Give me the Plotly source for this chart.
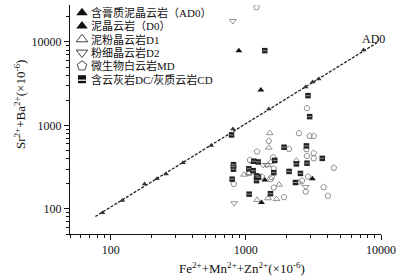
import plotly.graph_objects as go
import math

# AD0 含膏质泥晶云岩
ad0_x = [87, 122, 178, 220, 257, 343, 555, 802, 1479, 2773, 3120, 3457, 7430]
ad0_y = [90, 126, 199, 229, 262, 356, 575, 908, 1577, 2891, 3318, 3606, 8020]
# D0 泥晶云岩
d0_x = [888, 1291, 1132, 1381, 1305, 3105]
d0_y = [7870, 2663, 365, 222, 119, 229]
# D1 泥粉晶云岩
d1_x = [1503, 1478, 1530, 1461, 2366, 971, 1052, 1762, 2473, 1461, 1686, 1211]
d1_y = [807, 542, 365, 334, 379, 257, 268, 195, 207, 134, 131, 128]
# D2 粉细晶云岩
d2_x = [802, 1342, 1422, 2773, 820]
d2_y = [17830, 336, 336, 183, 117]
# MD 微生物白云岩
md_x = [1200, 2834, 2473, 2966, 3176, 1478, 2089, 2806, 1211, 3176, 2834, 3176, 1590,
        1071, 4480, 1610, 1058, 1312, 1556, 1521, 2884, 2606, 815, 1610, 2773, 3763,
        4048, 1918]
md_y = [26060, 1607, 807, 748, 748, 652, 523, 519, 486, 465, 431, 403, 416,
        386, 310, 304, 268, 244, 240, 227, 244, 218, 199, 180, 161, 182,
        143, 138]
# DC/CD 含云灰岩/灰质云岩
cd_x = [1381, 2884, 2966, 784, 1918, 2806, 3680, 1637, 1146, 1233, 2366, 2834, 810,
        810, 810, 1052, 1132, 1610, 2089, 2535, 1200, 1241, 1200, 792, 2328, 1521, 1058]
cd_y = [7870, 2275, 1275, 769, 548, 568, 403, 381, 373, 365, 346, 353, 339,
        321, 299, 302, 287, 272, 281, 266, 249, 240, 218, 227, 207, 152, 150]
# trend line AD0
fit_x = [77, 9300]
fit_y = [81, 9750]

x_ticks = [100, 1000, 10000]
y_ticks = [100, 1000, 10000]

legend_names = ["含膏质泥晶云岩（AD0）", "泥晶云岩（D0）", "泥粉晶云岩D1",
                "粉细晶云岩D2", "微生物白云岩MD", "含云灰岩DC/灰质云岩CD"]

FONT = "Liberation Serif, Noto Sans CJK SC"

# layout geometry (pixels)
W, H = 399, 278
L, R, T, B = 70, 18, 5, 44
PX0, PX1 = L, W - R
PY0, PY1 = H - B, T


def px(x):
    return (x - L) / (W - L - R)


def py(y):
    return (H - B - y) / (H - B - T)


styles = [
    dict(symbol="triangle-up", size=5, color="#333"),
    dict(symbol="triangle-up", size=6, color="#111"),
    dict(symbol="triangle-up-open", size=6, color="#777", line=dict(width=0.8)),
    dict(symbol="triangle-down-open", size=6, color="#777", line=dict(width=0.8)),
    dict(symbol="pentagon-open", size=6, color="#777", line=dict(width=0.8)),
    dict(symbol="square", size=5.5, color="#222"),
]
leg_styles = [
    dict(symbol="triangle-up", size=10, color="#111"),
    dict(symbol="triangle-up", size=10, color="#111"),
    dict(symbol="triangle-up-open", size=10, color="#444", line=dict(width=1)),
    dict(symbol="triangle-down-open", size=10, color="#444", line=dict(width=1)),
    dict(symbol="pentagon-open", size=10, color="#444", line=dict(width=1)),
    dict(symbol="square", size=8, color="#111"),
]
stripe = dict(symbol="line-ew", size=3, color="white", line=dict(color="#ddd", width=0.6))
leg_stripe = dict(symbol="line-ew", size=6, color="white", line=dict(color="white", width=1.2))

fig = go.Figure()
fig.add_trace(go.Scatter(x=fit_x, y=fit_y, mode="lines",
                         line=dict(color="#222", width=1.3, dash="3px,1.5px"),
                         showlegend=False, hoverinfo="skip"))
series = [(ad0_x, ad0_y), (d0_x, d0_y), (d1_x, d1_y), (d2_x, d2_y), (md_x, md_y), (cd_x, cd_y)]
for (sx, sy), st, nm in zip(series, styles, legend_names):
    fig.add_trace(go.Scatter(x=sx, y=sy, mode="markers", name=nm, marker=st, showlegend=False))
# white stripe on the half-filled squares
fig.add_trace(go.Scatter(x=cd_x, y=cd_y, mode="markers", marker=stripe,
                         showlegend=False, hoverinfo="skip"))

# custom legend on a pixel-scaled overlay axis
leg_x0, leg_y0, leg_dy = 82, 12.7, 13.3
for i, (st, nm) in enumerate(zip(leg_styles, legend_names)):
    yy = leg_y0 + i * leg_dy
    fig.add_trace(go.Scatter(x=[leg_x0], y=[yy], mode="markers", marker=st,
                             xaxis="x2", yaxis="y2", showlegend=False, hoverinfo="skip"))
    if i == len(legend_names) - 1:
        fig.add_trace(go.Scatter(x=[leg_x0], y=[yy + 1], mode="markers", marker=leg_stripe,
                                 xaxis="x2", yaxis="y2", showlegend=False, hoverinfo="skip"))
    fig.add_annotation(x=px(leg_x0 + 7), y=py(yy), xref="paper", yref="paper", text=nm,
                       showarrow=False, xanchor="left", yanchor="middle",
                       font=dict(family=FONT, size=11, color="#111"))

minor_x = [v * m for v in (10, 100, 1000) for m in range(2, 10)]
minor_y = [v * m for v in (10, 100, 1000, 10000) for m in range(2, 10)]

fig.add_annotation(x=px(373), y=py(39), xref="paper", yref="paper", text="AD0", showarrow=False,
                   xanchor="center", yanchor="middle",
                   font=dict(family=FONT, size=12, color="#111"))
# axis titles
fig.add_annotation(x=px(242), y=py(268), xref="paper", yref="paper",
                   text="Fe<sup>2+</sup>+Mn<sup>2+</sup>+Zn<sup>2+</sup>(×10<sup>-6</sup>)",
                   xanchor="center", yanchor="middle",
                   showarrow=False, font=dict(family=FONT, size=13, color="#111"))
fig.add_annotation(x=px(20), y=py(105), xref="paper", yref="paper", textangle=-90,
                   text="Sr<sup>2+</sup>+Ba<sup>2+</sup>(×10<sup>-6</sup>)",
                   xanchor="center", yanchor="middle",
                   showarrow=False, font=dict(family=FONT, size=13, color="#111"))

axis_common = dict(showgrid=False, zeroline=False, showline=True, linecolor="#111", linewidth=1,
                   ticks="outside", ticklen=5, tickcolor="#111", automargin=False)
fig.update_layout(
    width=W, height=H,
    margin=dict(l=L, r=R, t=T, b=B),
    paper_bgcolor="white", plot_bgcolor="white",
    font=dict(family=FONT, size=12, color="#111"),
    showlegend=False,
    xaxis=dict(type="log", range=[math.log10(50), 4.0], tickvals=x_ticks,
               ticktext=[str(v) for v in x_ticks],
               minor=dict(tickvals=minor_x, ticks="outside", ticklen=3, tickcolor="#111", showgrid=False),
               **axis_common),
    yaxis=dict(type="log", range=[math.log10(50), 4.443], tickvals=y_ticks,
               ticktext=[str(v) for v in y_ticks],
               minor=dict(tickvals=minor_y, ticks="outside", ticklen=3, tickcolor="#111", showgrid=False),
               **axis_common),
    xaxis2=dict(overlaying="x", range=[PX0, PX1], visible=False, fixedrange=True),
    yaxis2=dict(overlaying="y", range=[PY0, PY1], visible=False, fixedrange=True),
)

fig.write_html("out.html", config={"displayModeBar": False},
               post_script="document.body.style.margin='0';document.body.style.overflow='hidden';")
